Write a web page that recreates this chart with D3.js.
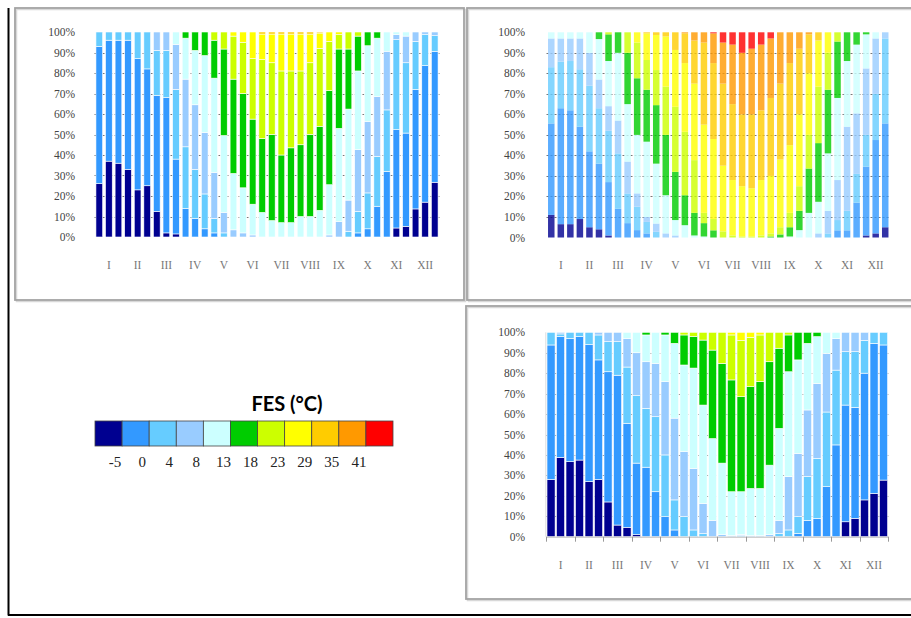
<!DOCTYPE html>
<html>
<head>
<meta charset="utf-8">
<script src="https://cdn.jsdelivr.net/npm/d3@7"></script>
<style>
  body { margin: 0; background: #fff; }
  svg { display: block; }
  .ylab { font-family: "Liberation Serif", "Times New Roman", serif; font-size: 11.5px; fill: #444; }
  .mlab { font-family: "Liberation Serif", "Times New Roman", serif; font-size: 11.5px; fill: #777; }
  .leglab { font-family: "Liberation Serif", "Times New Roman", serif; font-size: 15px; fill: #222; }
</style>
</head>
<body>
<script>
// FES temperature classes, frequency per ten-day period (3 per month)

var classColors = ["#000090", "#3399ff", "#66ccff", "#99ccff", "#ccffff",
                   "#00cc00", "#ccff00", "#ffff00", "#ffcc00", "#ff9900", "#ff0000"];
var legendTicks = ["-5", "0", "4", "8", "13", "18", "23", "29", "35", "41"];
var months = ["I", "II", "III", "IV", "V", "VI", "VII", "VIII", "IX", "X", "XI", "XII"];
var yTicks = [0, 10, 20, 30, 40, 50, 60, 70, 80, 90, 100];

// each bar: cumulative top (%) of class 0, 1, 2 ... ; the next class fills up to 100%
var fesA = [
  [26, 93], [37, 96], [36, 96], [33, 96], [23, 87], [25, 82],
  [12.5, 69, 91], [2, 68, 91], [1.5, 38, 72, 94], [0, 14, 44, 77, 97], [0, 9, 33, 64.5, 91], [0, 4, 21, 51, 88.5],
  [0, 2, 9, 31.5, 77.5, 96], [0, 0, 2, 12, 49.5, 91.7], [0, 0, 0, 3.5, 31, 77, 98], [0, 0, 0, 2, 24, 70, 95],
  [0, 0, 0, 1, 16, 57.5, 87], [0, 0, 0, 0, 12, 48, 86.5, 99],
  [0, 0, 0, 0, 8, 50, 85, 99], [0, 0, 0, 0, 7, 40, 81, 99], [0, 0, 0, 0, 7, 43.5, 81, 99],
  [0, 0, 0, 0, 10, 45, 81, 99], [0, 0, 0, 0, 10, 50, 85, 99], [0, 0, 0, 0, 13, 54, 92, 99.5],
  [0, 0, 0, 1, 25.5, 71.4, 95.4], [0, 0, 0, 7.6, 53, 91.7, 98.7], [0, 0, 2.8, 18, 62.4, 91.7],
  [0, 2, 12.5, 42.6, 81, 98], [0, 4, 21.5, 56.4, 93.3], [0, 15, 39.3, 68.6, 97],
  [0, 32, 62, 90.6], [4.4, 52.4, 96.3, 98.7], [5.2, 50.7, 85, 98],
  [13.7, 72, 95.4], [17, 83.6, 98.9], [26.7, 90.6, 98.2]
];

var fesB = [
  [11, 55.6, 83, 97], [6.5, 63, 85.7, 97], [6.5, 62, 86, 97],
  [9, 54, 82, 97], [5, 42, 74, 90], [4, 36, 63, 77, 96.7],
  [1, 27, 52, 64, 86, 99], [0, 14, 41, 57, 90], [0, 7, 21.5, 37, 65, 90],
  [0, 3.6, 15, 21.5, 50, 77.6, 95], [0, 2, 7.6, 10, 46.7, 72, 86.5, 99.5], [0, 0, 2.8, 6.8, 36, 64.5, 81.6, 98.7],
  [0, 0, 0, 2, 20.6, 50, 73.5, 98], [0, 0, 0, 1, 8.5, 32, 63.7, 91.4], [0, 0, 0, 0, 6, 20.6, 51.5, 85, 99.5],
  [0, 0, 0, 0, 1, 12, 37.7, 75, 96], [0, 0, 0, 0, 0.5, 7, 12, 55, 95], [0, 0, 0, 0, 0, 3.5, 9, 48, 85, 99.5],
  [0, 0, 0, 0, 0, 0, 3, 35, 75, 95], [0, 0, 0, 0, 0, 0, 1, 28, 65, 94], [0, 0, 0, 0, 0, 0, 0.5, 25, 60, 90],
  [0, 0, 0, 0, 0, 0, 0.5, 24, 60, 92], [0, 0, 0, 0, 0, 0, 1, 28, 62, 94], [0, 0, 0, 0, 0, 0.5, 2, 30, 68, 97],
  [0, 0, 0, 0, 0, 1.5, 5, 38, 75], [0, 0, 0, 0, 0.5, 5, 12, 45, 85], [0, 0, 0, 0, 3.6, 13, 25, 60, 92],
  [0, 0, 0, 0, 12, 33.6, 50, 80, 99], [0, 0, 0, 2, 17.4, 46, 73.5, 96], [0, 0, 2, 13, 41, 72, 90],
  [0, 3.5, 8.5, 28, 68, 95.5], [0, 3.5, 13, 54, 86], [0, 17, 31, 60.5, 94],
  [1, 34.5, 50, 82.4, 99], [2, 47.5, 70, 97], [5, 55.6, 97]
];

var fesC = [
  [28, 93.8], [38.8, 98, 99.2], [36.7, 97], [37.5, 98], [27, 94], [28, 86.5, 98.7],
  [17, 80.7, 95.4], [5.7, 79, 95.4], [4.6, 55.5, 83, 97], [1, 36, 69, 90], [0, 34, 62.8, 85.6, 98.7], [0, 22, 58.7, 84.8],
  [0, 9.8, 40, 75.9, 98.7], [0, 3.3, 18, 58, 94.6], [0, 0, 9.8, 41.6, 84, 98.7], [0, 0, 3.3, 33.4, 82.5, 98],
  [0, 0, 1.5, 16.3, 64.4, 96.2], [0, 0, 0, 8, 48, 91.3],
  [0, 0, 0, 1, 36, 84.8], [0, 0, 0, 0.5, 22, 76.7, 98.7], [0, 0, 0.5, 1, 22, 68.5, 96],
  [0, 0, 0, 0.5, 23.6, 73.4, 97.5], [0, 0, 0, 0.5, 23.6, 75.9, 98.7], [0, 0, 0, 1, 35, 85.6],
  [0, 0, 1.6, 8, 53, 92.2], [0, 0, 3.3, 29.4, 80.7, 98.7], [0, 1.6, 9.8, 40.8, 86.5],
  [0, 8, 29.4, 62, 94.6], [0, 9, 38.3, 75, 97.9], [0, 24.5, 61, 89.7],
  [0, 44.9, 81.5, 97], [7.3, 64.4, 90.5], [9, 63.3, 90.5],
  [18, 80, 96], [21.2, 94.6], [27.7, 93.8]
];

var width = 911,
    height = 618;

var svg = d3.select("body").append("svg")
    .attr("width", width)
    .attr("height", height);

// frames
svg.append("line").attr("x1", 8.5).attr("x2", 8.5).attr("y1", 8).attr("y2", 615.5)
    .attr("stroke", "#000").attr("stroke-width", 2);
svg.append("line").attr("x1", 8).attr("x2", 911).attr("y1", 615).attr("y2", 615)
    .attr("stroke", "#000").attr("stroke-width", 2);

var boxes = [[15, 8, 449, 292], [467, 8, 460, 292], [466, 306, 460, 293]];
boxes.forEach(function(b) {
  svg.append("rect").attr("x", b[0] + 1.5).attr("y", b[1] + 1.5).attr("width", b[2]).attr("height", b[3])
      .attr("fill", "none").attr("stroke", "#d8d8d8").attr("stroke-width", 1.5);
  svg.append("rect").attr("x", b[0]).attr("y", b[1]).attr("width", b[2]).attr("height", b[3])
      .attr("fill", "none").attr("stroke", "#a3a3a3").attr("stroke-width", 1.8);
});

function toSegments(tops) {
  var segs = [], prev = 0;
  for (var k = 0; k < classColors.length; k++) {
    var top = k < tops.length ? tops[k] : 100;
    if (top > prev) segs.push({ cls: k, y0: prev, y1: top });
    prev = Math.max(prev, top);
    if (prev >= 100) break;
  }
  return segs;
}

function drawPanel(data, o) {
  var g = svg.append("g");
  var x = d3.scaleBand().domain(d3.range(data.length))
      .range([o.x0, o.x1]).paddingInner(o.pad).paddingOuter(o.pad / 2);
  var y = d3.scaleLinear().domain([0, 100]).range([o.y0, o.y1]);

  // dashed gridlines
  g.selectAll(".grid").data(yTicks.filter(function(d) { return d > 0 && d < 100; }))
    .enter().append("line")
      .attr("x1", o.x0).attr("x2", o.x1)
      .attr("y1", function(d) { return Math.round(y(d)) + 0.5; })
      .attr("y2", function(d) { return Math.round(y(d)) + 0.5; })
      .attr("stroke", "#777").attr("stroke-width", 1).attr("stroke-dasharray", "2,2");

  // y labels
  g.selectAll(".ylab").data(yTicks).enter().append("text")
      .attr("class", "ylab")
      .attr("x", o.labX).attr("y", function(d) { return y(d); })
      .attr("dy", "0.35em").attr("text-anchor", "end")
      .text(function(d) { return d + "%"; });

  var bars = g.selectAll(".bar").data(data).enter().append("g")
      .attr("transform", function(d, i) { return "translate(" + x(i) + ",0)"; })
      .attr("opacity", o.opacity);

  bars.selectAll("rect").data(function(d) { return toSegments(d); })
    .enter().append("rect")
      .attr("x", 0)
      .attr("width", x.bandwidth())
      .attr("y", function(s) { return y(s.y1); })
      .attr("height", function(s) { return y(s.y0) - y(s.y1); })
      .attr("fill", function(s) { return classColors[s.cls]; })
      .attr("stroke", o.sep ? "#fff" : "none")
      .attr("stroke-width", 0.6);

  if (o.axis) {
    g.append("line").attr("x1", o.x0).attr("x2", o.x1).attr("y1", o.y0 + 0.5).attr("y2", o.y0 + 0.5)
        .attr("stroke", "#bbb");
    g.selectAll(".tick").data(d3.range(0, data.length + 1, 3)).enter().append("line")
        .attr("x1", function(i) { return Math.round(o.x0 + i * x.step()) + 0.5; })
        .attr("x2", function(i) { return Math.round(o.x0 + i * x.step()) + 0.5; })
        .attr("y1", o.y0).attr("y2", o.y0 + 5)
        .attr("stroke", "#999");
    g.append("line").attr("x1", o.x0 - 0.5).attr("x2", o.x0 - 0.5).attr("y1", o.y1).attr("y2", o.y0)
        .attr("stroke", "#ddd");
  }

  // month labels centred under the middle dekad
  g.selectAll(".mlab").data(months).enter().append("text")
      .attr("class", "mlab")
      .attr("x", function(m, i) { return x(i * 3 + 1) + x.bandwidth() / 2; })
      .attr("y", o.monthY)
      .attr("text-anchor", "middle")
      .text(function(m) { return m; });
}

drawPanel(fesA, { x0: 94.5, x1: 439.5, y0: 237, y1: 32, pad: 0.3, labX: 75, monthY: 269, sep: true, opacity: 1 });
drawPanel(fesB, { x0: 546.5, x1: 890, y0: 237.5, y1: 32.3, pad: 0.32, labX: 525, monthY: 269, sep: false, opacity: 0.8 });
drawPanel(fesC, { x0: 546.3, x1: 888.3, y0: 536.7, y1: 332.3, pad: 0.15, labX: 525, monthY: 569, sep: true, opacity: 1, axis: true });

// legend
var leg = svg.append("g");
var lx = d3.scaleBand().domain(d3.range(classColors.length)).range([95, 393]);

leg.append("text")
    .attr("x", 287).attr("y", 411)
    .attr("text-anchor", "middle")
    .style("font-family", "Lato, 'Open Sans', sans-serif")
    .style("font-weight", "bold")
    .style("font-size", "20px")
    .attr("fill", "#000")
    .text("FES (°C)");

leg.selectAll("rect").data(classColors).enter().append("rect")
    .attr("x", function(c, i) { return lx(i); })
    .attr("y", 421)
    .attr("width", lx.bandwidth())
    .attr("height", 25)
    .attr("fill", function(c) { return c; })
    .attr("stroke", "#444").attr("stroke-width", 0.8);

leg.selectAll(".leglab").data(legendTicks).enter().append("text")
    .attr("class", "leglab")
    .attr("x", function(t, i) { return lx(i + 1) - 7; })
    .attr("y", 467)
    .attr("text-anchor", "middle")
    .text(function(t) { return t; });
</script>
</body>
</html>
